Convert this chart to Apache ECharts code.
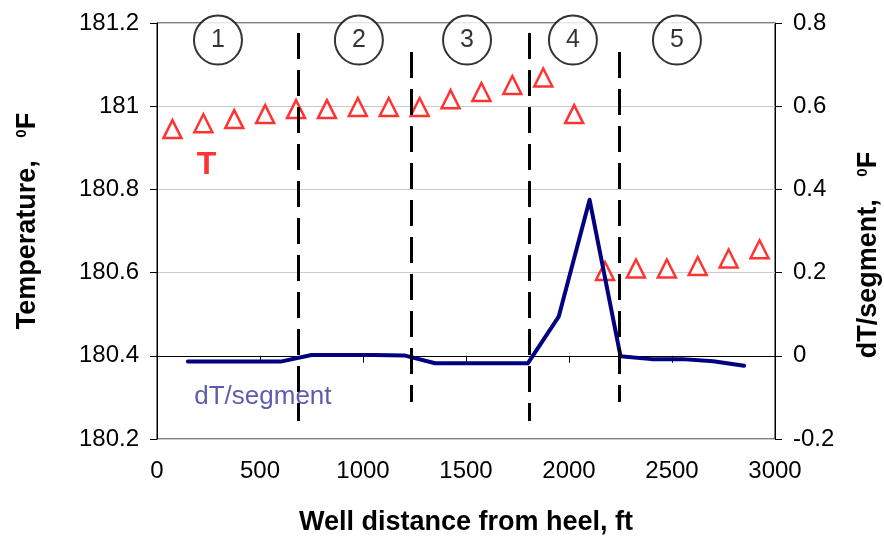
<!DOCTYPE html>
<html>
<head>
<meta charset="utf-8">
<title>Well temperature profile</title>
<script src="https://cdn.jsdelivr.net/npm/echarts@6/dist/echarts.min.js"></script>
<style>
  html, body { margin: 0; padding: 0; background: #fff; }
  #chart { width: 884px; height: 539px; }
</style>
</head>
<body>
<div id="chart"></div>
<script>
// Temperature readings along the well (ft from heel, deg F)
const distanceFt = [75, 225, 375, 525, 675, 825, 975, 1125, 1275, 1425,
                    1575, 1725, 1875, 2025, 2175, 2325, 2475, 2625, 2775, 2925];
const temperatureF = [180.945, 180.959, 180.969, 180.981, 180.993, 180.993, 180.998, 180.998, 180.998, 181.017,
                      181.034, 181.051, 181.069, 180.981, 180.604, 180.610, 180.610, 180.616, 180.634, 180.656];

// Temperature change per segment, plotted at segment midpoints (right axis)
const segmentMidFt = [150, 300, 450, 600, 750, 900, 1050, 1200, 1350, 1500,
                      1650, 1800, 1950, 2100, 2250, 2400, 2550, 2700, 2850];
const dTPerSegment = [-0.014, -0.014, -0.014, -0.014, 0.002, 0.002, 0.002, 0.001, -0.018, -0.018,
                      -0.018, -0.018, 0.094, 0.375, -0.001, -0.008, -0.008, -0.013, -0.024];

// Zone boundaries (dashed verticals) and their vertical extent on the temperature axis
const boundaryFt = [688, 1235, 1806, 2245];
const boundaryTopF = [181.176, 181.130, 181.176, 181.130];
const boundaryBottomF = [180.243, 180.289, 180.243, 180.289];

// Zone numbers shown in circles along the top
const zoneNames = ['1', '2', '3', '4', '5'];
const zoneLabelFt = [296, 980, 1505, 2019, 2524];
const zoneLabelF = 181.159;

// Axis ticks
const xTicks = { min: 0, max: 3000, interval: 500 };
const tTicks = { min: 180.2, max: 181.2, interval: 0.2 };
const dTTicks = { min: -0.2, max: 0.8, interval: 0.2 };

const FONT = "'Liberation Sans', Arial, sans-serif";
const chart = echarts.init(document.getElementById('chart'), null, { renderer: 'canvas' });

const axisCommon = {
  axisLine: { show: true, lineStyle: { color: '#000', width: 1 } },
  axisTick: { show: true, inside: false, length: 7, lineStyle: { color: '#000', width: 1 } },
  axisLabel: { color: '#000', fontFamily: FONT, fontSize: 24 },
};

const supStyle = { fontSize: 15, fontWeight: 'bold', fontFamily: FONT, color: '#000', verticalAlign: 'top', padding: [0, 0, 9, 0] };

const option = {
  backgroundColor: '#fff',
  animation: false,
  grid: {
    left: 157, right: 109, top: 23, bottom: 100,
    show: true, borderColor: '#000', borderWidth: 1,
    containLabel: false, outerBoundsMode: 'none'
  },
  xAxis: {
    type: 'value', ...xTicks,
    ...axisCommon,
    axisLabel: { ...axisCommon.axisLabel, margin: 20, formatter: v => String(v) },
    splitLine: { show: false },
    name: 'Well distance from heel, ft',
    nameLocation: 'middle', nameGap: 70,
    nameTextStyle: { color: '#000', fontFamily: FONT, fontSize: 27, fontWeight: 'bold' }
  },
  yAxis: [
    {
      type: 'value', position: 'left', ...tTicks,
      ...axisCommon,
      axisLabel: { ...axisCommon.axisLabel, margin: 18 },
      splitLine: { show: true, lineStyle: { color: '#cccccc', width: 1 } },
      name: 'Temperature,   {sup|0}F',
      nameLocation: 'middle', nameGap: 116, nameRotate: 90,
      nameTextStyle: {
        color: '#000', fontFamily: FONT, fontSize: 27, fontWeight: 'bold',
        padding: [0, 0, 0, 20],
        rich: { sup: supStyle }
      }
    },
    {
      type: 'value', position: 'right', ...dTTicks,
      ...axisCommon,
      axisLabel: { ...axisCommon.axisLabel, margin: 18 },
      splitLine: { show: false },
      name: 'dT/segment,   {sup|0}F',
      nameLocation: 'middle', nameGap: 80, nameRotate: 90,
      nameTextStyle: {
        color: '#000', fontFamily: FONT, fontSize: 27, fontWeight: 'bold',
        padding: [0, 48, 0, 0],
        rich: { sup: supStyle }
      }
    }
  ],
  series: [
    {
      name: 'T',
      type: 'scatter',
      yAxisIndex: 0,
      symbol: 'triangle',
      symbolSize: 18,
      itemStyle: { color: '#fff', borderColor: '#ff0000', borderWidth: 2.5 },
      data: distanceFt.map((d, i) => [d, temperatureF[i]]),
      z: 3
    },
    {
      name: 'dT/segment',
      type: 'line',
      yAxisIndex: 1,
      showSymbol: false,
      symbol: 'none',
      lineStyle: { color: '#000080', width: 4, join: 'round', cap: 'round' },
      data: segmentMidFt.map((d, i) => [d, dTPerSegment[i]]),
      z: 4
    },
    {
      name: 'Zone boundaries',
      type: 'line',
      yAxisIndex: 0,
      data: [],
      markLine: {
        silent: true,
        symbol: ['none', 'none'],
        label: { show: false },
        lineStyle: { color: '#000', width: 3, type: [26, 11] },
        data: boundaryFt.map((x, i) => [
          { coord: [x, boundaryTopF[i]] },
          { coord: [x, boundaryBottomF[i]] }
        ])
      },
      z: 5
    },
    {
      name: 'Zones',
      type: 'scatter',
      yAxisIndex: 0,
      clip: false,
      symbol: 'circle',
      symbolSize: [48, 49],
      itemStyle: { color: '#fff', borderColor: '#000', borderWidth: 2 },
      label: {
        show: true, position: 'inside', color: '#000', fontFamily: FONT, fontSize: 25,
        formatter: p => zoneNames[p.dataIndex]
      },
      data: zoneLabelFt.map(x => [x, zoneLabelF]),
      z: 6
    },
    {
      name: 'Series captions',
      type: 'scatter',
      yAxisIndex: 0,
      symbolSize: 0,
      data: [
        { value: [241, 180.859], label: { show: true, position: 'inside', formatter: 'T', color: '#ff0000', fontFamily: FONT, fontSize: 32, fontWeight: 'bold' } }
      ],
      z: 7
    },
    {
      name: 'Line caption',
      type: 'scatter',
      yAxisIndex: 1,
      symbolSize: 0,
      data: [
        { value: [514, -0.099], label: { show: true, position: 'inside', formatter: 'dT/segment', color: '#333399', fontFamily: FONT, fontSize: 26 } }
      ],
      z: 7
    }
  ]
};

chart.setOption(option);
</script>
</body>
</html>
